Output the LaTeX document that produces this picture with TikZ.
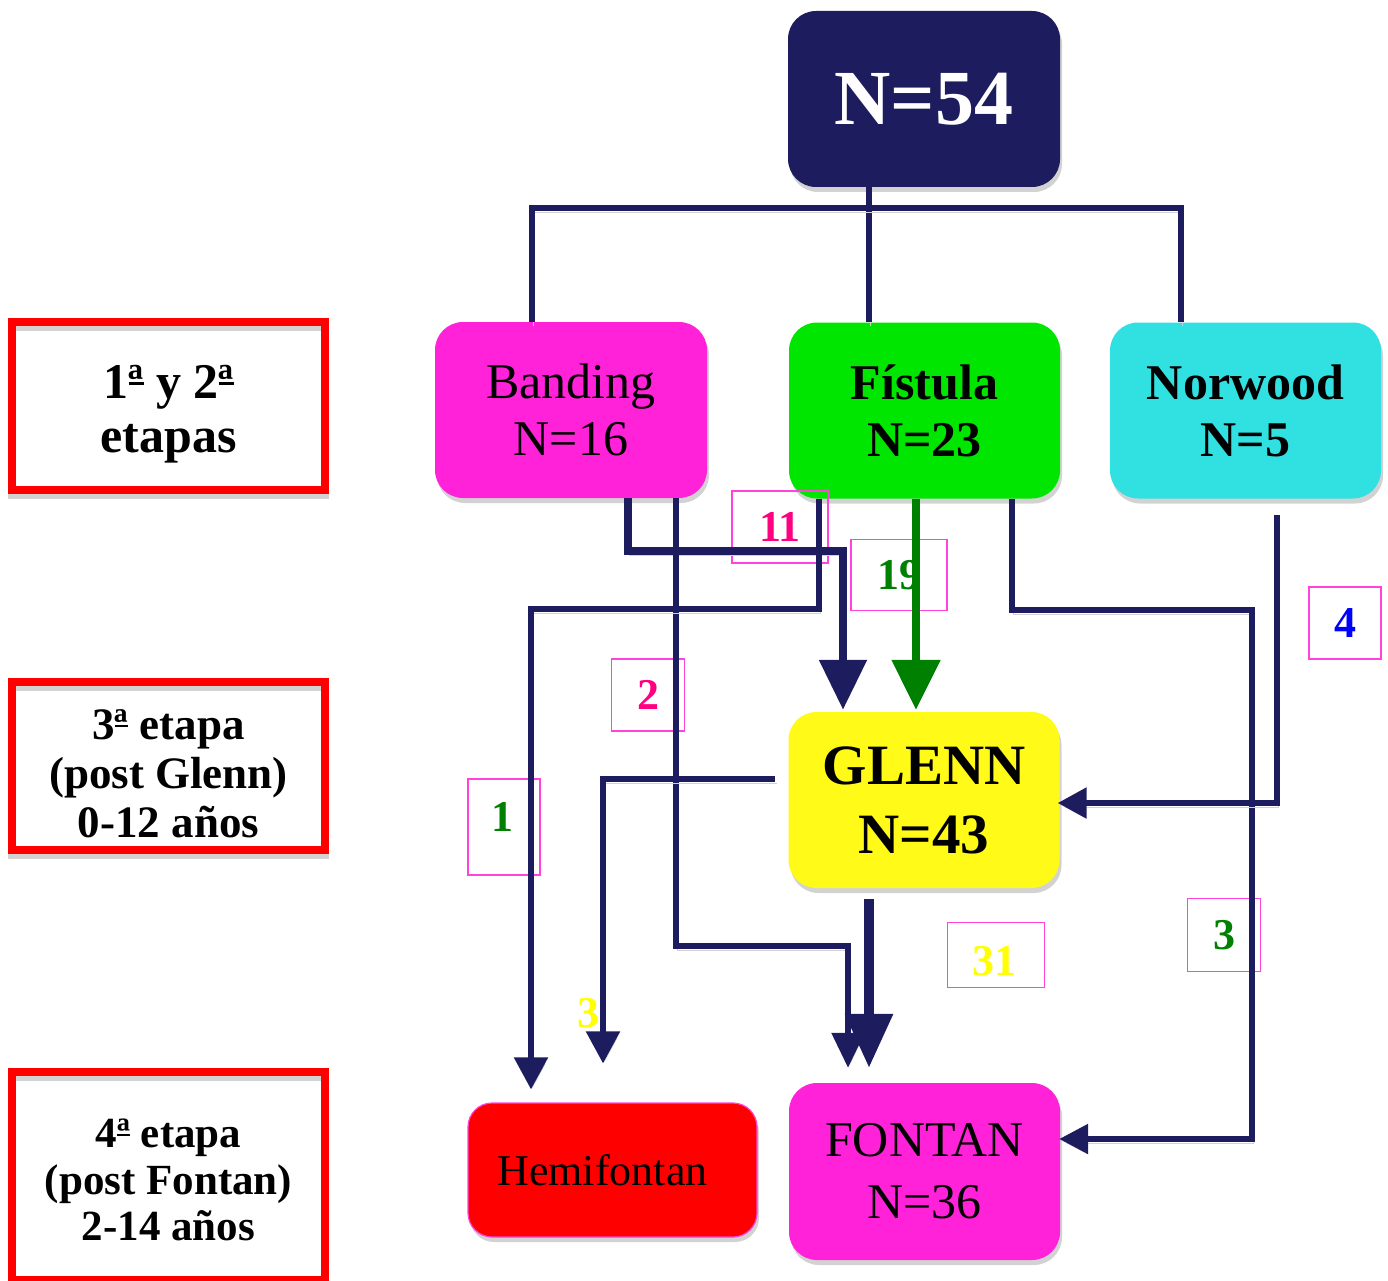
\documentclass[tikz,border=0pt]{standalone}
\usepackage{fontspec}
\setmainfont{Liberation Serif}
\usetikzlibrary{arrows.meta,shadows}
\definecolor{navy}{HTML}{1C1C5E}
\definecolor{bandmag}{HTML}{FF22D8}
\definecolor{fisgreen}{HTML}{00E600}
\definecolor{norcyan}{HTML}{31E1E1}
\definecolor{glyellow}{HTML}{FFFA17}
\definecolor{labborder}{HTML}{FF44DD}
\definecolor{labpink}{HTML}{FF0080}
\definecolor{darkgreen}{HTML}{008000}
\definecolor{labyellow}{HTML}{FFFF00}
\newcommand\ordfem{\ooalign{ª\cr\hfil\rule[0.27em]{0.3em}{0.055em}\hfil\cr}}
\begin{document}
\begin{tikzpicture}[x=1pt,y=-1pt,
  box/.style={rounded corners=28pt, inner sep=0pt, align=center,
    minimum width=271pt, minimum height=176pt,
    drop shadow={shadow xshift=2pt, shadow yshift=-5pt, fill=black!35}},
  stagebox/.style={draw=red, line width=8pt, fill=none, inner sep=0pt, align=center,
    minimum width=313pt, minimum height=168pt,
    drop shadow={shadow xshift=0pt, shadow yshift=-5pt, fill=none, draw=black!35, line width=8pt}},
  lab/.style={draw=labborder, line width=1.6pt, inner sep=0pt,
    font=\fontsize{44}{44}\selectfont\bfseries},
  conn/.style={draw=navy, line width=5.5pt,
    preaction={draw=black!18, transform canvas={shift={(1.5pt,-4pt)}}}},
  thickconn/.style={conn, line width=8.5pt}]
\useasboundingbox (0,0) rectangle (1388,1281);

% stage boxes
\node[stagebox, font=\fontsize{50}{54}\selectfont\bfseries] (s1) at (168.5,406) {\rule{0pt}{49pt}1\ordfem{} y 2\ordfem\\etapas};
\node[stagebox, font=\fontsize{45}{49}\selectfont\bfseries] (s2) at (168.5,766) {\rule{0pt}{45pt}3\ordfem{} etapa\\(post Glenn)\\0-12 años};
\node[stagebox, minimum height=208pt, font=\fontsize{43}{46.5}\selectfont\bfseries] (s3) at (168.5,1176) {\rule{0pt}{37pt}4\ordfem{} etapa\\(post Fontan)\\2-14 años};

% main boxes
\node[box, fill=navy, text=white, minimum width=272pt, font=\fontsize{78}{80}\selectfont\bfseries] (top) at (924,99) {N=54};
\node[box, fill=bandmag, minimum width=272pt, font=\fontsize{50}{57}\selectfont] (ban) at (571,410) {Banding\\N=16};
\node[box, fill=fisgreen, font=\fontsize{50}{57}\selectfont\bfseries] (fis) at (924.5,410.5) {Fístula\\N=23};
\node[box, fill=norcyan, font=\fontsize{50}{57}\selectfont\bfseries] (nor) at (1245.5,410.5) {Norwood\\N=5};
\node[box, fill=glyellow, font=\fontsize{57}{69}\selectfont\bfseries] (glenn) at (924,800) {GLENN\\N=43};
\node[box, fill=red, draw=labborder, line width=1.2pt, rounded corners=24pt,
  minimum width=289pt, minimum height=134pt, font=\fontsize{44}{50}\selectfont] (hemi) at (612.5,1170) {Hemifontan\hspace*{20pt}};
\node[box, fill=bandmag, minimum height=177pt, font=\fontsize{50}{62}\selectfont] (fontan) at (924.5,1171.5) {FONTAN\\N=36};

% number labels
\node[lab, minimum width=96pt, minimum height=72pt, text=labpink] (l11) at (780,527) {11};
\node[lab, minimum width=96pt, minimum height=71pt, text=darkgreen] (l19) at (899,575) {19};
\node[lab, minimum width=73pt, minimum height=72pt, text=labpink] (l2) at (648,695) {2};
\node[lab, minimum width=72pt, minimum height=96pt] (l1) at (504,827) {};
\node[font=\fontsize{44}{44}\selectfont\bfseries, text=darkgreen, inner sep=0pt] (t1) at (502,817) {1};
\node[lab, minimum width=72pt, minimum height=72pt, text=blue] (l4) at (1345,623) {4};
\node[lab, minimum width=97pt, minimum height=65pt] (l31) at (996,955) {};
\node[font=\fontsize{44}{44}\selectfont\bfseries, text=labyellow, inner sep=0pt] (t31) at (994,961) {31};
\node[lab, minimum width=73pt, minimum height=73pt, text=darkgreen] (l3) at (1224,935) {3};
\node[font=\fontsize{44}{44}\selectfont\bfseries, text=labyellow, inner sep=0pt] (y3) at (588,1013) {3};

% coordinates for bends
\coordinate (t0) at (532,208);
\coordinate (tm) at (869,208);
\coordinate (t2) at (1181,208);
\coordinate (a1) at (628,551);
\coordinate (a2) at (843,551);
\coordinate (b3) at (676,946);
\coordinate (b4) at (848,946);
\coordinate (h1) at (819,609);
\coordinate (h2) at (531,609);
\coordinate (gx) at (916,600);
\coordinate (f2) at (1012,610);
\coordinate (f3) at (1252,610);
\coordinate (f4) at (1252,1139);
\coordinate (n1) at (1277,515);
\coordinate (n2) at (1277,803);
\coordinate (gl) at (775,779);
\coordinate (gl2) at (603,779);
\coordinate (gb) at (869,899);

% tree from top
\draw[conn] (top.south -| tm) -- (fis.north -| tm);
\draw[conn] (ban.north -| t0) -- (t0) -- (t2) -- (nor.north -| t2);

% connectors
\draw[thickconn, -{Triangle[length=50pt,width=46pt]}, shorten >=2pt]
  (ban.south -| a1) -- (a1) -- (a2) -- (glenn.north -| a2);
\draw[conn, -{Triangle[length=35pt,width=32pt]}, shorten >=15pt]
  (ban.south -| b3) -- (b3) -- (b4) -- (fontan.north -| b4);
\draw[conn, -{Triangle[length=32pt,width=33pt]}, shorten >=13pt]
  (fis.south -| h1) -- (h1) -- (h2) -- (hemi.north -| h2);
\draw[thickconn, draw=darkgreen, -{Triangle[length=50pt,width=47pt]}, shorten >=2pt]
  (fis.south -| gx) -- (glenn.north -| gx);
\draw[conn, -{Triangle[length=29pt,width=29pt]}, shorten >=-1pt]
  (fis.south -| f2) -- (f2) -- (f3) -- (f4) -- (fontan.east |- f4);
\draw[conn, -{Triangle[length=29pt,width=30pt]}, shorten >=-2pt]
  (n1) -- (n2) -- (glenn.east |- n2);
\draw[conn, -{Triangle[length=32pt,width=33pt]}, shorten >=39pt]
  (gl) -- (gl2) -- (hemi.north -| gl2);
\draw[thickconn, line width=9.5pt, -{Triangle[length=54pt,width=46pt]}, shorten >=15pt]
  (gb) -- (fontan.north -| gb);
\end{tikzpicture}
\end{document}
